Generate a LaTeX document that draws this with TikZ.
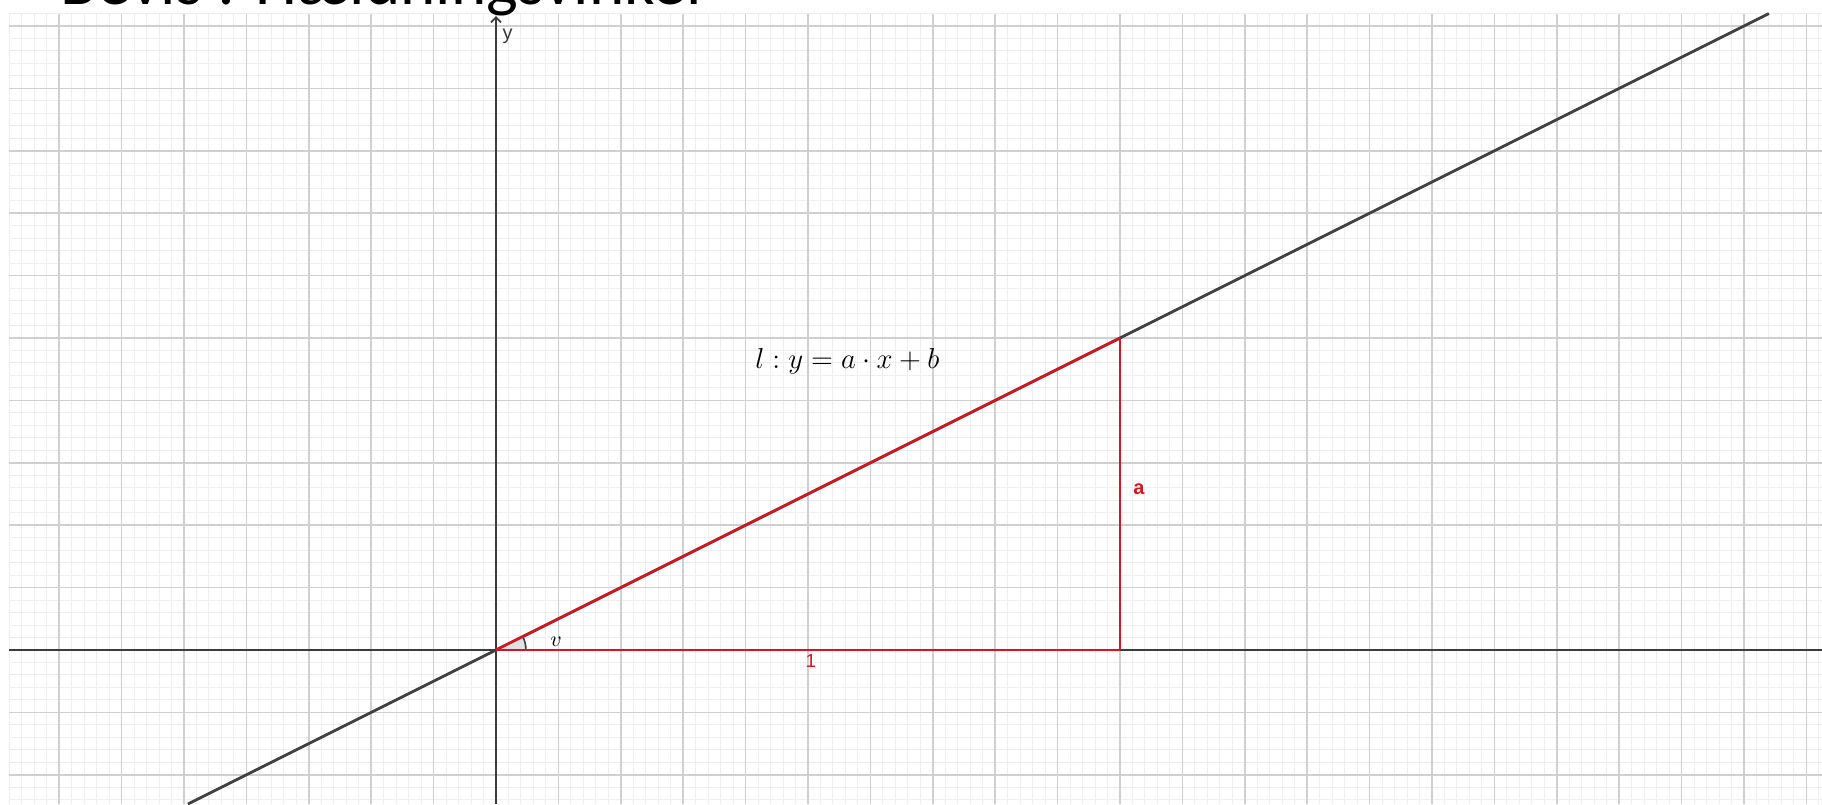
\documentclass[tikz,border=0pt]{standalone}
\usepackage{fontspec}
\newfontfamily\titlefont{Carlito}
\newfontfamily\labelfont{Liberation Sans}
\usetikzlibrary{arrows.meta}
\definecolor{minorgrid}{RGB}{238,238,238}
\definecolor{majorgrid}{RGB}{208,208,208}
\definecolor{axiscol}{RGB}{60,60,60}
\definecolor{linecol}{RGB}{64,64,64}
\definecolor{tri}{RGB}{208,24,36}
\definecolor{anglefill}{RGB}{225,225,225}
\tikzset{
  minorline/.style={draw=minorgrid, line width=0.5pt},
  majorline/.style={draw=majorgrid, line width=0.8pt},
  axisline/.style={draw=axiscol, line width=0.9pt},
  lline/.style={draw=linecol, line width=1.4pt},
  triline/.style={draw=tri, line width=1.3pt},
  redlabel/.style={text=tri, font=\labelfont\fontsize{9.5}{11}\selectfont, inner sep=0pt},
}
\begin{document}
\begin{tikzpicture}[x=31.2pt,y=31.2pt]
\useasboundingbox (-7.9487,-2.4679) rectangle (21.25,10.4167);
\fill[white] (-7.9487,-2.4679) rectangle (21.25,10.4167);
% grid
\draw[minorline, step=0.2] (-7.8,-2.4679) grid (21.25,10.2);
\draw[majorline, step=1] (-7.8,-2.4679) grid (21.25,10.2);
% title (partly cut by the page edge)
\node[anchor=base west, font=\titlefont\fontsize{33.6}{36}\selectfont, inner sep=0pt] (title) at (-6.98,10.337) {Bevis : Hældningsvinkel};
% axes
\coordinate (xl) at (-7.8,0);
\coordinate (xr) at (21.25,0);
\coordinate (yb) at (0,-2.4679);
\coordinate (yt) at (0,10.16);
\draw[axisline] (xl) -- (xr);
\draw[axisline, -{Straight Barb[length=2.5pt,width=5pt]}] (yb) -- (yt);
\node[anchor=base west, font=\labelfont\fontsize{10}{12}\selectfont, text=axiscol, inner sep=0pt] (ylab) at (0.1,9.776) {y};
% line l
\coordinate (lA) at (-4.936,-2.4679);
\coordinate (lB) at (20.4,10.2);
\draw[lline] (lA) -- (lB);
% triangle
\coordinate (O) at (0,0);
\coordinate (F) at (10,0);
\coordinate (C) at (10,5);
% angle v
\fill[anglefill] (O) -- (0.48,0) arc[start angle=0, end angle=26.565, radius=0.48] -- cycle;
\draw[axiscol, line width=0.8pt] (0.48,0) arc[start angle=0, end angle=26.565, radius=0.48];
\draw[triline] (O) -- (F);
\draw[triline] (F) -- (C);
\draw[triline] (O) -- (C);
% labels
\node[anchor=base west, inner sep=0pt, font=\fontsize{13.5}{16}\selectfont] (eq) at (4.151,4.519) {$l : y = a \cdot x + b$};
\node[anchor=base west, inner sep=0pt, font=\fontsize{10.5}{12}\selectfont] (vlab) at (0.865,0.064) {$v$};
\node[redlabel] (one) at (5.048,-0.176) {1};
\node[redlabel, font=\labelfont\bfseries\fontsize{10}{11}\selectfont] (alab) at (10.304,2.58) {a};
\end{tikzpicture}
\end{document}
